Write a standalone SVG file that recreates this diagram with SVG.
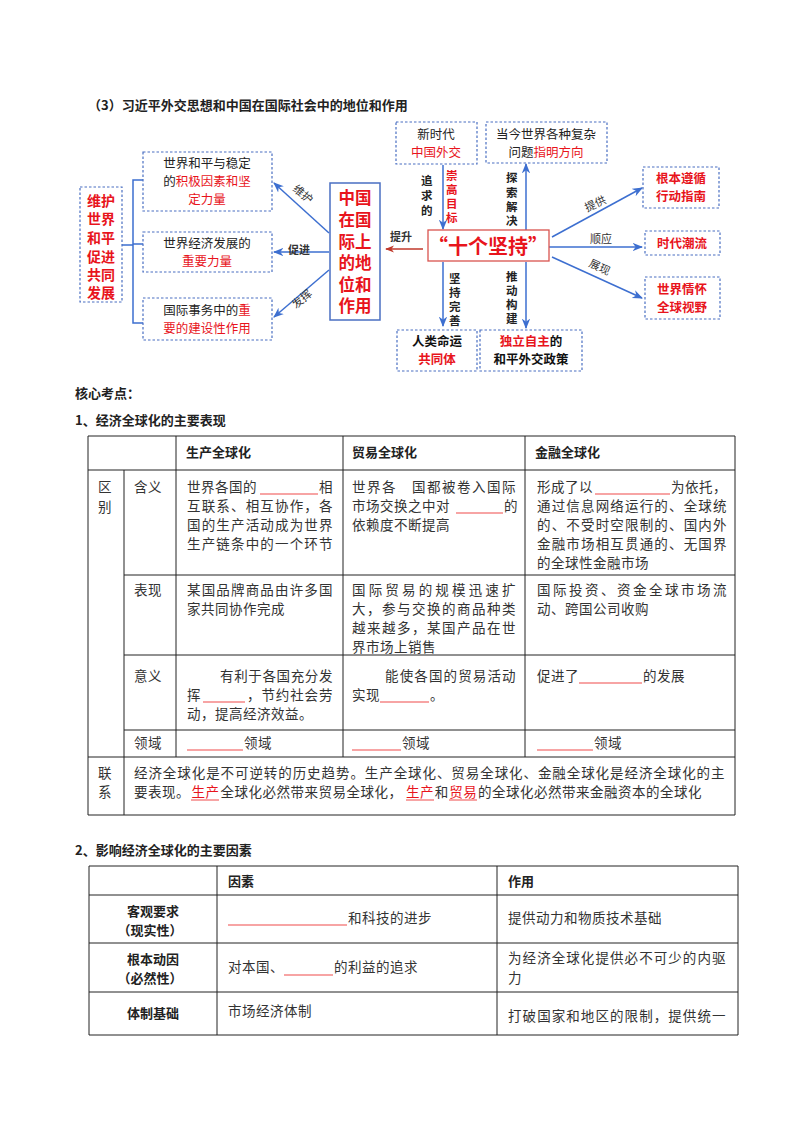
<svg xmlns="http://www.w3.org/2000/svg" width="800" height="1132" viewBox="0 0 800 1132">
<style>
svg{fill:#222}
text{font-family:"Noto Sans CJK SC","Noto Sans",sans-serif}
.h{font-weight:bold;font-size:13px}
.d{font-size:12.5px}
.bx{fill:#fff;stroke:#4a6fc2;stroke-width:1.2;stroke-dasharray:2.5 2}
.bl{stroke:#3d6fd0;stroke-width:1.5;fill:none}
.lab{font-size:11px;fill:#333}
.t{font-size:13.5px;letter-spacing:.5px;fill:#333}
.g{stroke:#222;stroke-width:1;fill:none}
.u{stroke:#f04a4a;stroke-width:1.2}
.c{text-anchor:middle}
.r{fill:#e8141c}
.rb{fill:#e8141c;font-weight:bold}
</style>
<defs>
<marker id="ab" viewBox="0 0 10 10" refX="9" refY="5" markerWidth="7" markerHeight="7" orient="auto"><path d="M0,1 L10,5 L0,9 L3,5z" fill="#3d6fd0"/></marker>
<marker id="ar" viewBox="0 0 10 10" refX="9" refY="5" markerWidth="7" markerHeight="7" orient="auto"><path d="M0,1 L10,5 L0,9 L3,5z" fill="#c0392b"/></marker>
</defs>
<rect width="800" height="1132" fill="#fff"/>
<text class="h" x="88" y="110">（3）习近平外交思想和中国在国际社会中的地位和作用</text>

<g id="connectors">
<path class="bl" d="M122,245 H133 M143,180 H133 V323 H143 M133,244 H143" stroke-width="2.5"/>
<line class="bl" x1="329" y1="233" x2="274" y2="183" marker-end="url(#ab)"/>
<line class="bl" x1="329" y1="252" x2="274" y2="252" marker-end="url(#ab)"/>
<line class="bl" x1="329" y1="270" x2="274" y2="317" marker-end="url(#ab)"/>
<line x1="423" y1="249" x2="386" y2="249" stroke="#c0392b" stroke-width="1.3" marker-end="url(#ar)"/>
<line class="bl" x1="443" y1="165" x2="443" y2="229" marker-end="url(#ab)"/>
<line class="bl" x1="526" y1="230" x2="526" y2="164" marker-end="url(#ab)"/>
<line class="bl" x1="443" y1="262" x2="443" y2="326" marker-end="url(#ab)"/>
<line class="bl" x1="526" y1="262" x2="526" y2="328" marker-end="url(#ab)"/>
<line class="bl" x1="552" y1="237" x2="642" y2="188" marker-end="url(#ab)"/>
<line class="bl" x1="549" y1="247" x2="642" y2="247" marker-end="url(#ab)"/>
<line class="bl" x1="552" y1="257" x2="642" y2="298" marker-end="url(#ab)"/>
<text class="lab" transform="translate(292,190) rotate(40)">维护</text>
<text class="lab" x="288" y="254" font-weight="bold" fill="#111">促进</text>
<text class="lab" transform="translate(296,309) rotate(-40)">发挥</text>
<text class="lab" x="390" y="241" font-weight="bold" fill="#111">提升</text>
<text class="lab" transform="translate(587,212) rotate(-25)">提供</text>
<text class="lab" x="590" y="243">顺应</text>
<text class="lab" transform="translate(588,266) rotate(25)">展现</text>
<g font-weight="bold" font-size="11.5px">
<text x="421" y="185">追</text><text x="421" y="200">求</text><text x="421" y="215">的</text>
<text x="446" y="180" class="rb">崇</text><text x="446" y="194" class="rb">高</text><text x="446" y="208" class="rb">目</text><text x="446" y="222" class="rb">标</text>
<text x="506" y="182">探</text><text x="506" y="197">索</text><text x="506" y="211">解</text><text x="506" y="225">决</text>
<text x="449" y="283">坚</text><text x="449" y="297">持</text><text x="449" y="311">完</text><text x="449" y="325">善</text>
<text x="506" y="281">推</text><text x="506" y="295">动</text><text x="506" y="309">构</text><text x="506" y="323">建</text>
</g>
</g>

<g id="n-left"><rect class="bx" x="80" y="187" width="42" height="115"/>
<g class="rb c" font-size="14px"><text x="101" y="206">维护</text><text x="101" y="224">世界</text><text x="101" y="243">和平</text><text x="101" y="262">促进</text><text x="101" y="280">共同</text><text x="101" y="298">发展</text></g></g>
<g id="n-b1"><rect class="bx" x="143" y="152" width="129" height="59"/>
<text class="d c" x="207" y="168">世界和平与稳定</text>
<text class="d c" x="207" y="186">的<tspan class="r">积极因素和坚</tspan></text>
<text class="d c r" x="207" y="204">定力量</text></g>
<g id="n-b2"><rect class="bx" x="143" y="232" width="129" height="40"/>
<text class="d c" x="207" y="248">世界经济发展的</text>
<text class="d c r" x="207" y="266">重要力量</text></g>
<g id="n-b3"><rect class="bx" x="143" y="298" width="129" height="42"/>
<text class="d c" x="207" y="315">国际事务中的<tspan class="r">重</tspan></text>
<text class="d c r" x="207" y="333">要的建设性作用</text></g>
<g id="n-china"><rect x="330" y="183" width="50" height="137" fill="#fff" stroke="#4a6fc2" stroke-width="1.5"/>
<g class="rb c" font-size="16.5px"><text x="355" y="204">中国</text><text x="355" y="226">在国</text><text x="355" y="248">际上</text><text x="355" y="269">的地</text><text x="355" y="291">位和</text><text x="355" y="312">作用</text></g></g>
<g id="n-ten"><rect x="428" y="230" width="121" height="31" fill="#fff" stroke="#d9534f" stroke-width="1.3"/>
<text class="rb c" x="488" y="254" font-size="20px">“十个坚持”</text></g>
<g id="n-t1"><rect class="bx" x="396" y="122" width="81" height="42"/>
<text class="d c" x="436" y="139">新时代</text><text class="d c r" x="436" y="157">中国外交</text></g>
<g id="n-t2"><rect class="bx" x="486" y="122" width="121" height="41"/>
<text class="d c" x="546" y="139">当今世界各种复杂</text><text class="d c" x="546" y="157">问题<tspan class="r">指明方向</tspan></text></g>
<g id="n-d1"><rect class="bx" x="397" y="330" width="80" height="41"/>
<text class="d c" x="437" y="346" font-weight="bold" fill="#111">人类命运</text><text class="d c rb" x="437" y="364">共同体</text></g>
<g id="n-d2"><rect class="bx" x="480" y="330" width="102" height="41"/>
<text class="d c" x="531" y="346" font-weight="bold" fill="#111"><tspan class="r">独立自主</tspan>的</text><text class="d c" x="531" y="364" font-weight="bold" fill="#111">和平外交政策</text></g>
<g id="n-r1"><rect class="bx" x="643" y="167" width="76" height="41"/>
<text class="d c rb" x="681" y="183">根本遵循</text><text class="d c rb" x="681" y="201">行动指南</text></g>
<g id="n-r2"><rect class="bx" x="645" y="231" width="75" height="24"/>
<text class="d c rb" x="682" y="248">时代潮流</text></g>
<g id="n-r3"><rect class="bx" x="645" y="277" width="75" height="42"/>
<text class="d c rb" x="682" y="294">世界情怀</text><text class="d c rb" x="682" y="312">全球视野</text></g>

<text class="h" x="75" y="398">核心考点：</text>
<text class="h" x="75" y="425">1、经济全球化的主要表现</text>

<g id="table1">
<path class="g" d="M88,436 H735 V815 M88,436 V815 M88,470 H735 M124,470 V815 M176,436 V757 M343,436 V757 M525,436 V757 M124,575 H735 M124,655 H735 M124,730 H735 M88,757 H735 M88,815 H735"/>
<text class="h" x="186" y="457">生产全球化</text><text class="h" x="352" y="457">贸易全球化</text><text class="h" x="535" y="457">金融全球化</text>
<text class="t" x="98" y="492">区</text><text class="t" x="98" y="512">别</text>
<text class="t" x="134" y="492">含义</text><text class="t" x="134" y="595">表现</text><text class="t" x="134" y="681">意义</text><text class="t" x="134" y="748">领域</text>
<text class="t" x="187" y="492">世界各国的</text><line class="u" x1="260" y1="494" x2="318" y2="494"/><text class="t" x="319" y="492">相</text>
<text class="t" x="187" y="511" textLength="146" lengthAdjust="spacing">互联系、相互协作，各</text>
<text class="t" x="187" y="530" textLength="146" lengthAdjust="spacing">国的生产活动成为世界</text>
<text class="t" x="187" y="549" textLength="146" lengthAdjust="spacing">生产链条中的一个环节</text>
<text class="t" x="352" y="492" textLength="164" lengthAdjust="spacing">世界各　国都被卷入国际</text>
<text class="t" x="352" y="511">市场交换之中对</text><line class="u" x1="456" y1="513" x2="503" y2="513"/><text class="t" x="504" y="511">的</text>
<text class="t" x="352" y="530">依赖度不断提高</text>
<text class="t" x="537" y="492">形成了以</text><line class="u" x1="595" y1="494" x2="670" y2="494"/><text class="t" x="671" y="492">为依托，</text>
<text class="t" x="537" y="511" textLength="190" lengthAdjust="spacing">通过信息网络运行的、全球统</text>
<text class="t" x="537" y="530" textLength="190" lengthAdjust="spacing">的、不受时空限制的、国内外</text>
<text class="t" x="537" y="549" textLength="190" lengthAdjust="spacing">金融市场相互贯通的、无国界</text>
<text class="t" x="537" y="568">的全球性金融市场</text>
<text class="t" x="187" y="595" textLength="146" lengthAdjust="spacing">某国品牌商品由许多国</text>
<text class="t" x="187" y="614">家共同协作完成</text>
<text class="t" x="352" y="595" textLength="164" lengthAdjust="spacing">国际贸易的规模迅速扩</text>
<text class="t" x="352" y="614" textLength="164" lengthAdjust="spacing">大，参与交换的商品种类</text>
<text class="t" x="352" y="633" textLength="164" lengthAdjust="spacing">越来越多，某国产品在世</text>
<text class="t" x="352" y="652">界市场上销售</text>
<text class="t" x="537" y="595" textLength="190" lengthAdjust="spacing">国际投资、资金全球市场流</text>
<text class="t" x="537" y="614">动、跨国公司收购</text>
<text class="t" x="220" y="681" textLength="113" lengthAdjust="spacing">有利于各国充分发</text>
<text class="t" x="187" y="700">挥</text><line class="u" x1="203" y1="702" x2="245" y2="702"/><text class="t" x="247" y="700" textLength="86" lengthAdjust="spacing">，节约社会劳</text>
<text class="t" x="187" y="719">动，提高经济效益。</text>
<text class="t" x="385" y="681" textLength="131" lengthAdjust="spacing">能使各国的贸易活动</text>
<text class="t" x="352" y="700">实现</text><line class="u" x1="380" y1="702" x2="429" y2="702"/><text class="t" x="430" y="700">。</text>
<text class="t" x="537" y="681">促进了</text><line class="u" x1="579" y1="683" x2="642" y2="683"/><text class="t" x="643" y="681">的发展</text>
<line class="u" x1="187" y1="750" x2="243" y2="750"/><text class="t" x="244" y="748">领域</text>
<line class="u" x1="352" y1="750" x2="401" y2="750"/><text class="t" x="402" y="748">领域</text>
<line class="u" x1="537" y1="750" x2="593" y2="750"/><text class="t" x="594" y="748">领域</text>
<text class="t" x="98" y="778">联</text><text class="t" x="98" y="797">系</text>
<text class="t" x="134" y="778" textLength="591" lengthAdjust="spacing">经济全球化是不可逆转的历史趋势。生产全球化、贸易全球化、金融全球化是经济全球化的主</text>
<text class="t" x="134" y="797">要表现。</text><text x="191.6" y="797" class="t r">生产</text><text class="t" x="220.4" y="797">全球化必然带来贸易全球化，</text><text x="406" y="797" class="t r">生产</text><text class="t" x="434.8" y="797">和</text><text x="449.2" y="797" class="t r">贸易</text><text class="t" x="478" y="797">的全球化必然带来金融资本的全球化</text>
<path class="u" d="M191,800 H219 M406,800 H434 M449,800 H477"/>
</g>

<text class="h" x="75" y="855">2、影响经济全球化的主要因素</text>
<g id="table2">
<path class="g" d="M89,866 H738 V1035 H89 Z M89,895 H738 M89,943 H738 M89,992 H738 M217,866 V1035 M497,866 V1035"/>
<text class="h" x="228" y="886">因素</text><text class="h" x="508" y="886">作用</text>
<text class="h c" x="153" y="916">客观要求</text><text class="h c" x="150" y="935">（现实性）</text>
<line class="u" x1="228" y1="925" x2="347" y2="925"/><text class="t" x="348" y="923">和科技的进步</text>
<text class="t" x="508" y="923">提供动力和物质技术基础</text>
<text class="h c" x="153" y="964">根本动因</text><text class="h c" x="150" y="983">（必然性）</text>
<text class="t" x="228" y="972">对本国、</text><line class="u" x1="284" y1="975" x2="333" y2="975"/><text class="t" x="334" y="972">的利益的追求</text>
<text class="t" x="508" y="963" textLength="218" lengthAdjust="spacing">为经济全球化提供必不可少的内驱</text>
<text class="t" x="508" y="983">力</text>
<text class="h c" x="153" y="1018">体制基础</text>
<text class="t" x="228" y="1016">市场经济体制</text>
<text class="t" x="508" y="1021" textLength="218" lengthAdjust="spacing">打破国家和地区的限制，提供统一</text>
</g>
</svg>
